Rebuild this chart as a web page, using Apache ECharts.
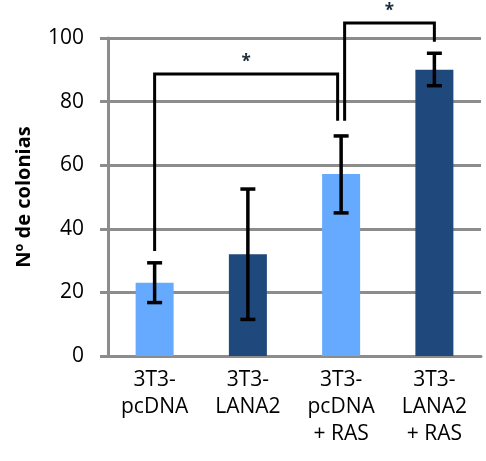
<!DOCTYPE html>
<html>
<head>
<meta charset="utf-8">
<script src="https://cdn.jsdelivr.net/npm/echarts@6/dist/echarts.min.js"></script>
<style>
  html, body { margin: 0; padding: 0; background: #fff; }
  #chart { width: 486px; height: 461px; }
</style>
</head>
<body>
<div id="chart"></div>
<script>
  // datos
  const categories = ['3T3-\npcDNA', '3T3-\nLANA2', '3T3-\npcDNA\n+ RAS', '3T3-\nLANA2\n+ RAS'];
  const colonias = [23, 32, 57.2, 90];
  const errLow = [16.8, 11.5, 45, 85];
  const errHigh = [29.3, 52.5, 69.2, 95.2];
  // corchetes de significancia: [cat izq, cat der, altura, pie izq, pie der]
  const brackets = [
    [0, 2, 88.7, 33, 74],
    [2, 3, 104.7, 74, 98.8]
  ];
  const starLabel = '*';

  const light = '#66aaff';
  const dark = '#1f497d';
  const gridGray = '#8c8c8c';
  const font = '"Open Sans", "Noto Sans", sans-serif';

  let myChart = echarts.init(document.getElementById('chart'));

  // categorias compartidas por dos corchetes -> separar un poco las patas
  const rightCats = brackets.map(b => b[1]);
  const leftCats = brackets.map(b => b[0]);

  myChart.setOption({
    animation: false,
    grid: { left: 108, right: 5, top: 38, bottom: 105 },
    xAxis: {
      type: 'category',
      data: categories,
      axisLine: { lineStyle: { color: gridGray, width: 3 } },
      axisTick: { show: false },
      axisLabel: {
        color: '#000',
        fontFamily: font,
        fontSize: 21,
        lineHeight: 27,
        margin: 11
      }
    },
    yAxis: {
      type: 'value',
      min: 0,
      max: 100,
      interval: 20,
      name: 'Nº de colonias',
      nameLocation: 'middle',
      nameGap: 74,
      nameTextStyle: { color: '#000', fontFamily: font, fontSize: 20, fontWeight: 'bold' },
      axisLine: { show: true, lineStyle: { color: gridGray, width: 3 } },
      axisTick: { show: true, length: 8, lineStyle: { color: gridGray, width: 3 } },
      axisLabel: { color: '#000', fontFamily: font, fontSize: 21, margin: 24 },
      splitLine: { lineStyle: { color: gridGray, width: 3 } }
    },
    series: [
      {
        type: 'bar',
        barWidth: 38,
        data: colonias.map((v, i) => ({
          value: v,
          itemStyle: { color: i % 2 === 0 ? light : dark }
        }))
      },
      {
        type: 'custom',
        clip: false,
        z: 5,
        data: errLow.map((lo, i) => [i, lo, errHigh[i]]),
        renderItem: function (params, api) {
          const lo = api.coord([api.value(0), api.value(1)]);
          const hi = api.coord([api.value(0), api.value(2)]);
          const cap = 7.5;
          const st = { stroke: '#000', lineWidth: 3.5 };
          return {
            type: 'group',
            children: [
              { type: 'line', shape: { x1: lo[0], y1: lo[1], x2: hi[0], y2: hi[1] }, style: st },
              { type: 'line', shape: { x1: lo[0] - cap, y1: lo[1], x2: lo[0] + cap, y2: lo[1] }, style: st },
              { type: 'line', shape: { x1: hi[0] - cap, y1: hi[1], x2: hi[0] + cap, y2: hi[1] }, style: st }
            ]
          };
        }
      },
      {
        type: 'custom',
        clip: false,
        z: 6,
        data: brackets,
        renderItem: function (params, api) {
          const c0 = api.value(0), c1 = api.value(1);
          let a = api.coord([c0, api.value(2)]);
          let b = api.coord([c1, api.value(2)]);
          let la = api.coord([c0, api.value(3)]);
          let lb = api.coord([c1, api.value(4)]);
          const nudge = 3.5;
          const xl = a[0] + (rightCats.indexOf(c0) >= 0 ? nudge : 0);
          const xr = b[0] - (leftCats.indexOf(c1) >= 0 ? nudge : 0);
          return {
            type: 'group',
            children: [
              {
                type: 'polyline',
                shape: { points: [[xl, la[1]], [xl, a[1]], [xr, a[1]], [xr, lb[1]]] },
                style: { stroke: '#000', lineWidth: 3, fill: null }
              },
              {
                type: 'text',
                style: {
                  text: starLabel,
                  x: (xl + xr) / 2,
                  y: a[1] - 3,
                  align: 'center',
                  verticalAlign: 'bottom',
                  font: 'bold 17px ' + font,
                  fill: '#1a2a3a'
                }
              }
            ]
          };
        }
      }
    ]
  });
</script>
</body>
</html>
